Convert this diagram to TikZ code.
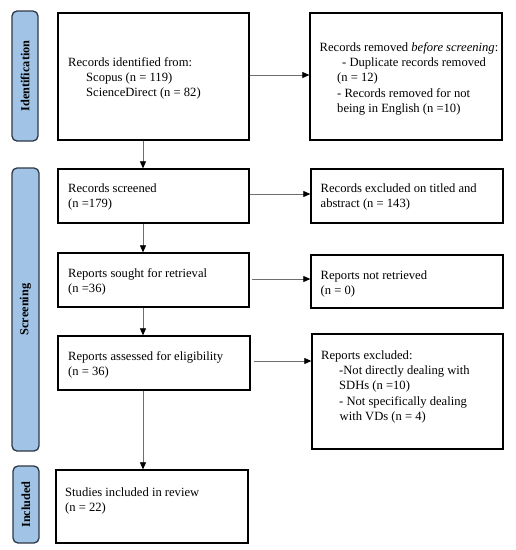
\documentclass[tikz,border=0pt]{standalone}
\usepackage{fontspec}
\setmainfont{Liberation Serif}
\usetikzlibrary{arrows.meta}
\definecolor{sidefill}{RGB}{161,196,230}
\definecolor{sidedraw}{RGB}{45,55,70}
\definecolor{arrowgray}{RGB}{110,110,110}
\newcommand{\boxtext}[1]{\parbox[t]{185pt}{\fontsize{12.6}{15.4}\selectfont\raggedright #1}}
\begin{document}
\begin{tikzpicture}[x=1pt,y=-1pt,
  box/.style={draw=black, line width=1.3pt, rectangle, inner sep=0pt},
  side/.style={draw=sidedraw, fill=sidefill, line width=1.3pt, rounded corners=5pt, rectangle, inner sep=0pt},
  sidelabel/.style={rotate=90, font=\fontsize{12.3}{13}\selectfont\bfseries, inner sep=0pt},
  txt/.style={anchor=base west, inner sep=0pt},
  arr/.style={draw=arrowgray, line width=0.7pt, -{Triangle[length=7pt,width=6pt,color=black]}}
]
\useasboundingbox (0,0) rectangle (516,550);
% side bars
\node[side, minimum width=26pt, minimum height=130pt] (sid) at (25,76) {};
\node[sidelabel] (sidl) at (sid.center) {Identification};
\node[side, minimum width=27pt, minimum height=283pt] (ssc) at (25.5,309.5) {};
\node[sidelabel] (sscl) at (ssc.center) {Screening};
\node[side, minimum width=26pt, minimum height=77pt] (sin) at (26,504.5) {};
\node[sidelabel] (sinl) at (sin.center) {Included};
% left boxes
\node[box, minimum width=191pt, minimum height=127pt] (b1) at (153.5,76.5) {};
\node[box, minimum width=191pt, minimum height=54pt] (b2) at (153.5,196) {};
\node[box, minimum width=191pt, minimum height=54pt] (b3) at (153.5,280) {};
\node[box, minimum width=192pt, minimum height=54pt] (b4) at (154,363) {};
\node[box, minimum width=192pt, minimum height=73pt] (b5) at (152,506.5) {};
% right boxes
\node[box, minimum width=192pt, minimum height=127pt] (r1) at (406,76.5) {};
\node[box, minimum width=192pt, minimum height=54pt] (r2) at (407,196) {};
\node[box, minimum width=192pt, minimum height=53pt] (r3) at (407,281.5) {};
\node[box, minimum width=191pt, minimum height=115pt] (r4) at (407.5,391.5) {};
% texts
\node[txt] (t1) at (68,66) {\boxtext{Records identified from:\\\hspace*{18pt}Scopus (n = 119)\\\hspace*{18pt}ScienceDirect (n = 82)}};
\node[txt] (t2) at (68,192) {\boxtext{Records screened\\(n =179)}};
\node[txt] (t3) at (68,277) {\boxtext{Reports sought for retrieval\\(n =36)}};
\node[txt] (t4) at (68,360) {\boxtext{Reports assessed for eligibility\\(n = 36)}};
\node[txt] (t5) at (65,496) {\boxtext{Studies included in review\\(n = 22)}};
\node[txt] (u1) at (319.5,51) {\boxtext{Records removed \textit{before screening}:\\\hspace*{22.5pt}- Duplicate records removed\\\hspace*{17.5pt}(n = 12)\\\hspace*{17.5pt}- Records removed for not\\\hspace*{17.5pt}being in English (n =10)}};
\node[txt] (u2) at (320.5,192) {\boxtext{Records excluded on titled and\\abstract (n = 143)}};
\node[txt] (u3) at (320.5,279) {\boxtext{Reports not retrieved\\(n = 0)}};
\node[txt] (u4) at (321,359) {\boxtext{Reports excluded:\\\hspace*{18pt}-Not directly dealing with\\\hspace*{18pt}SDHs (n =10)\\\hspace*{18pt}- Not specifically dealing\\\hspace*{18.5pt}with VDs (n = 4)}};
% arrows
\draw[arr] ([yshift=1.5pt]b1.east) -- ([yshift=1.5pt]b1.east -| r1.west);
\draw[arr] ([yshift=2pt]b2.east) -- ([yshift=2pt]b2.east -| r2.west);
\draw[arr] ([yshift=1pt,xshift=2pt]b3.east) -- ([yshift=1pt]b3.east -| r3.west);
\draw[arr] ([yshift=2pt,xshift=3pt]b4.east) -- ([yshift=2pt]b4.east -| r4.west);
\draw[arr] ([xshift=-10.5pt]b1.south) -- ([xshift=-10.5pt]b1.south |- b2.north);
\draw[arr] ([xshift=-10.5pt]b2.south) -- ([xshift=-10.5pt]b2.south |- b3.north);
\draw[arr] ([xshift=-10.5pt]b3.south) -- ([xshift=-10.5pt]b3.south |- b4.north);
\draw[arr] ([xshift=-11pt]b4.south) -- ([xshift=-11pt]b4.south |- b5.north);
\end{tikzpicture}
\end{document}
